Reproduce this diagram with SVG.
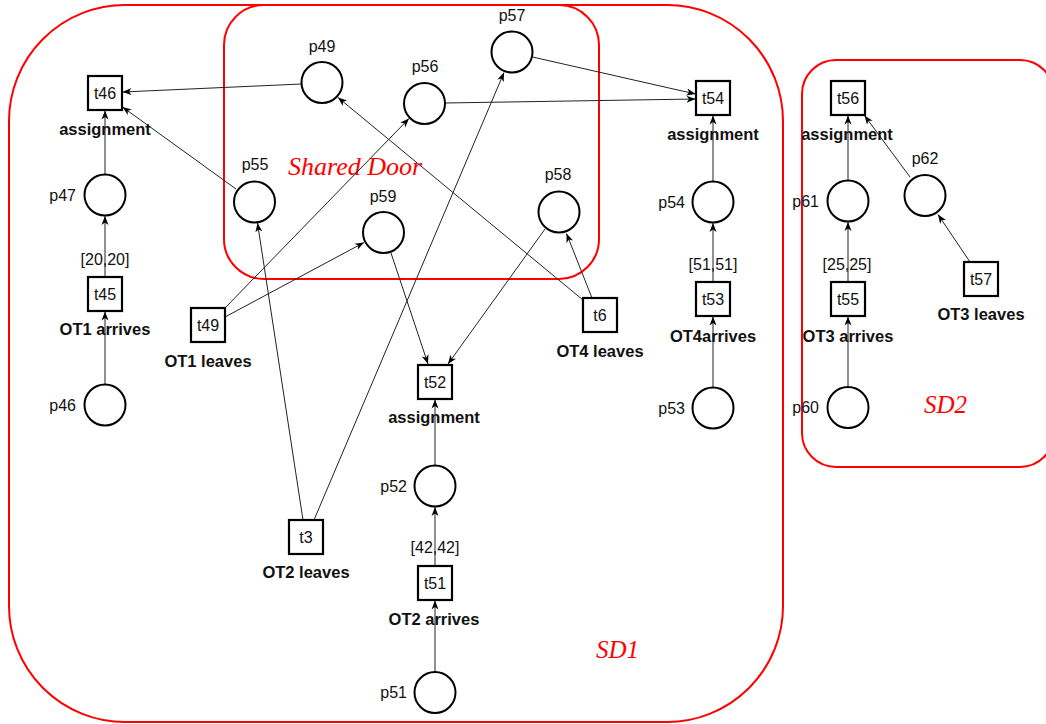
<svg xmlns="http://www.w3.org/2000/svg" width="1046" height="724" viewBox="0 0 1046 724">
  <style>
    .region { fill: none; stroke: #f00; stroke-width: 2; }
    .region-label { font-family: "Liberation Serif", "Times New Roman", serif; font-style: italic; fill: #f00; }
    .place { fill: #fff; stroke: #000; stroke-width: 2; }
    .trans { fill: #fff; stroke: #000; stroke-width: 2.2; }
    .id { font-family: "Liberation Sans", Arial, sans-serif; font-size: 16px; fill: #111; }
    .mid { text-anchor: middle; }
    .end { text-anchor: end; }
    .name { font-family: "Liberation Sans", Arial, sans-serif; font-size: 16.5px; font-weight: bold; fill: #111; text-anchor: middle; }
    .arc { fill: none; stroke: #222; stroke-width: 1; marker-end: url(#arrow); }
  </style>
  <defs>
    <marker id="arrow" markerUnits="userSpaceOnUse" markerWidth="10" markerHeight="8" refX="9" refY="4" orient="auto">
      <path d="M0,0.5 L9,4 L0,7.5 L2.5,4 Z" fill="#000"/>
    </marker>
  </defs>

  <rect width="1046" height="724" fill="#fff"/>

  <!-- regions -->
  <g id="regions">
    <rect class="region" x="9" y="5" width="774" height="717" rx="116" ry="116"/>
    <rect class="region" x="224" y="5" width="375" height="274" rx="40" ry="40"/>
    <rect class="region" x="802" y="60" width="252" height="407" rx="34" ry="34"/>
    <text class="region-label" x="288" y="175" font-size="26">Shared Door</text>
    <text class="region-label" x="596" y="658" font-size="25">SD1</text>
    <text class="region-label" x="924" y="413" font-size="25">SD2</text>
  </g>

  <!-- arcs -->
  <g id="connectors">
    <path class="arc" d="M105,174.5 L105,110.5"/>
    <path class="arc" d="M105,277 L105,216"/>
    <path class="arc" d="M105,384.5 L105,311.5"/>
    <path class="arc" d="M301.5,84 L122.5,92"/>
    <path class="arc" d="M236,189 L122.5,107"/>
    <path class="arc" d="M303,520 L257.5,223"/>
    <path class="arc" d="M314,520 L504,72.5"/>
    <path class="arc" d="M225,308 L409,118.5"/>
    <path class="arc" d="M225,317 L364,242.5"/>
    <path class="arc" d="M583,300 L338,97.5"/>
    <path class="arc" d="M592,298 L566.5,233.5"/>
    <path class="arc" d="M545,229 L448,364"/>
    <path class="arc" d="M391,253 L428,364"/>
    <path class="arc" d="M435,465.5 L435,399.5"/>
    <path class="arc" d="M435,566 L435,507"/>
    <path class="arc" d="M435,672 L435,600.5"/>
    <path class="arc" d="M445,103 L695.5,99"/>
    <path class="arc" d="M532.5,57 L695.5,94"/>
    <path class="arc" d="M713,181.5 L713,115.5"/>
    <path class="arc" d="M713,282 L713,223"/>
    <path class="arc" d="M713,387.5 L713,316.5"/>
    <path class="arc" d="M848,180.5 L848,115.5"/>
    <path class="arc" d="M848,282 L848,222"/>
    <path class="arc" d="M848,387 L848,316.5"/>
    <path class="arc" d="M910,177 L864.5,115.5"/>
    <path class="arc" d="M970,262 L938,214.5"/>
  </g>

  <!-- places -->
  <g id="p47"><circle class="place" cx="105" cy="195" r="20.5"/><text class="id end" x="76" y="201">p47</text></g>
  <g id="p46"><circle class="place" cx="105" cy="405" r="20.5"/><text class="id end" x="76" y="411">p46</text></g>
  <g id="p55"><circle class="place" cx="254.5" cy="202" r="20.5"/><text class="id mid" x="255" y="170">p55</text></g>
  <g id="p49"><circle class="place" cx="322" cy="82.5" r="20.5"/><text class="id mid" x="322" y="52">p49</text></g>
  <g id="p56"><circle class="place" cx="424.5" cy="103.5" r="20.5"/><text class="id mid" x="425" y="72">p56</text></g>
  <g id="p57"><circle class="place" cx="512" cy="52" r="20.5"/><text class="id mid" x="512" y="21">p57</text></g>
  <g id="p59"><circle class="place" cx="383.5" cy="232.5" r="20.5"/><text class="id mid" x="383" y="202">p59</text></g>
  <g id="p58"><circle class="place" cx="559" cy="212" r="20.5"/><text class="id mid" x="558" y="180">p58</text></g>
  <g id="p52"><circle class="place" cx="435" cy="486" r="20.5"/><text class="id end" x="407" y="492">p52</text></g>
  <g id="p51"><circle class="place" cx="435" cy="692.5" r="20.5"/><text class="id end" x="407" y="698">p51</text></g>
  <g id="p54"><circle class="place" cx="713" cy="202" r="20.5"/><text class="id end" x="685" y="208">p54</text></g>
  <g id="p53"><circle class="place" cx="713" cy="408" r="20.5"/><text class="id end" x="685" y="414">p53</text></g>
  <g id="p61"><circle class="place" cx="848" cy="201" r="20.5"/><text class="id end" x="819" y="207">p61</text></g>
  <g id="p60"><circle class="place" cx="848" cy="407.5" r="20.5"/><text class="id end" x="819" y="413">p60</text></g>
  <g id="p62"><circle class="place" cx="925" cy="195.5" r="20.5"/><text class="id mid" x="925" y="164">p62</text></g>

  <!-- transitions -->
  <g id="t46"><rect class="trans" x="88" y="76" width="34" height="34"/><text class="id mid" x="105" y="99">t46</text><text class="name" x="105" y="135">assignment</text></g>
  <g id="t45"><rect class="trans" x="88" y="277" width="34" height="34"/><text class="id mid" x="105" y="300">t45</text><text class="id mid" x="105" y="265">[20,20]</text><text class="name" x="105" y="335">OT1 arrives</text></g>
  <g id="t49"><rect class="trans" x="191" y="308" width="34" height="34"/><text class="id mid" x="208" y="331">t49</text><text class="name" x="208" y="367">OT1 leaves</text></g>
  <g id="t52"><rect class="trans" x="418" y="365" width="34" height="34"/><text class="id mid" x="435" y="388">t52</text><text class="name" x="434" y="423">assignment</text></g>
  <g id="t51"><rect class="trans" x="418" y="566" width="34" height="34"/><text class="id mid" x="435" y="589">t51</text><text class="id mid" x="435" y="553">[42,42]</text><text class="name" x="434" y="625">OT2 arrives</text></g>
  <g id="t3"><rect class="trans" x="289" y="520" width="34" height="34"/><text class="id mid" x="306" y="543">t3</text><text class="name" x="306" y="578">OT2 leaves</text></g>
  <g id="t6"><rect class="trans" x="583" y="298" width="34" height="34"/><text class="id mid" x="600" y="321">t6</text><text class="name" x="600" y="357">OT4 leaves</text></g>
  <g id="t54"><rect class="trans" x="696" y="81" width="34" height="34"/><text class="id mid" x="713" y="104">t54</text><text class="name" x="713" y="140">assignment</text></g>
  <g id="t53"><rect class="trans" x="696" y="282" width="34" height="34"/><text class="id mid" x="713" y="305">t53</text><text class="id mid" x="713" y="270">[51,51]</text><text class="name" x="713" y="342">OT4arrives</text></g>
  <g id="t56"><rect class="trans" x="831" y="81" width="34" height="34"/><text class="id mid" x="848" y="104">t56</text><text class="name" x="847" y="140">assignment</text></g>
  <g id="t55"><rect class="trans" x="831" y="282" width="34" height="34"/><text class="id mid" x="848" y="305">t55</text><text class="id mid" x="847" y="270">[25,25]</text><text class="name" x="848" y="342">OT3 arrives</text></g>
  <g id="t57"><rect class="trans" x="964" y="262" width="34" height="34"/><text class="id mid" x="981" y="285">t57</text><text class="name" x="981" y="320">OT3 leaves</text></g>
</svg>
